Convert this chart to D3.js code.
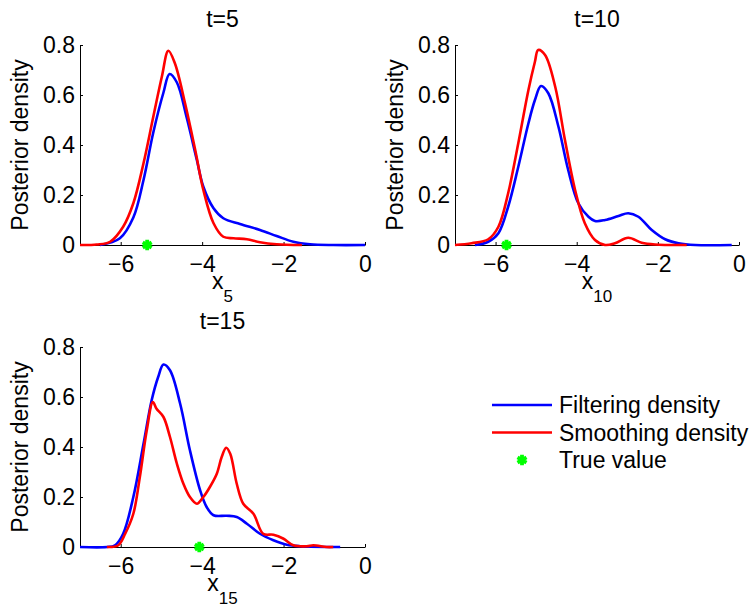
<!DOCTYPE html>
<html>
<head>
<meta charset="utf-8">
<script src="https://cdn.jsdelivr.net/npm/d3@7"></script>
<style>
  body { margin: 0; background: #fff; }
  svg { font-family: "Liberation Sans", Arial, Helvetica, sans-serif; }
  .axis path, .axis line { stroke: #000; }
  .axis text { font-size: 23px; fill: #000; }
  .lbl { font-size: 23px; fill: #000; }
  .curve { fill: none; stroke-width: 2.6; stroke-linejoin: round; }
</style>
</head>
<body>
<svg id="chart" width="756" height="607"></svg>
<script>
// time steps shown, one panel each
let times = [5, 10, 15];
let trueValues = [-5.35, -5.73, -4.07];
let xTicks = [-6, -4, -2, 0];
let yTicks = [0, 0.2, 0.4, 0.6, 0.8];
let seriesNames = ['Filtering density', 'Smoothing density', 'True value'];

// [x, density]
let filtering5 = [[-6.51,0],[-6.02,0.027],[-5.69,0.11],[-5.44,0.26],[-5.2,0.45],[-4.95,0.61],
  [-4.8,0.684],[-4.62,0.65],[-4.38,0.51],[-4.13,0.34],[-3.97,0.233],[-3.72,0.147],[-3.48,0.107],
  [-3.07,0.084],[-2.58,0.06],[-2.17,0.036],[-1.76,0.013],[-1.35,0.003],[-0.78,0],[0,0]];
let smoothing5 = [[-7,0],[-6.59,0.002],[-6.26,0.013],[-5.94,0.073],[-5.69,0.167],[-5.44,0.327],
  [-5.2,0.513],[-4.99,0.673],[-4.83,0.777],[-4.67,0.727],[-4.42,0.567],[-4.17,0.38],[-3.97,0.22],
  [-3.72,0.087],[-3.48,0.033],[-3.23,0.027],[-2.9,0.023],[-2.58,0.011],[-2.17,0.003],[-1.55,0]];
let filtering10 = [[-6.51,0],[-6.18,0.013],[-5.93,0.047],[-5.69,0.153],[-5.44,0.313],[-5.19,0.487],
  [-5.03,0.58],[-4.88,0.636],[-4.7,0.607],[-4.45,0.473],[-4.21,0.3],[-3.96,0.167],[-3.71,0.113],
  [-3.55,0.096],[-3.3,0.1],[-2.97,0.116],[-2.73,0.127],[-2.48,0.113],[-2.15,0.06],[-1.82,0.023],
  [-1.49,0.007],[-1.08,0],[-0.18,0]];
let smoothing10 = [[-7,0],[-6.59,0.007],[-6.18,0.023],[-5.93,0.073],[-5.69,0.207],[-5.44,0.407],
  [-5.19,0.62],[-5.03,0.733],[-4.95,0.78],[-4.78,0.76],[-4.53,0.633],[-4.29,0.42],[-4.04,0.22],
  [-3.8,0.087],[-3.55,0.02],[-3.3,0],[-3.06,0.007],[-2.73,0.029],[-2.4,0.009],[-2.07,0.002],[-1.29,0]];
let filtering15 = [[-7,0],[-6.34,0],[-6.14,0.007],[-5.94,0.053],[-5.69,0.2],[-5.44,0.413],
  [-5.24,0.587],[-5.08,0.68],[-4.95,0.73],[-4.79,0.707],[-4.54,0.573],[-4.3,0.387],[-4.05,0.227],
  [-3.89,0.16],[-3.72,0.127],[-3.4,0.125],[-3.15,0.12],[-2.9,0.093],[-2.58,0.053],[-2.25,0.027],
  [-1.92,0.009],[-1.59,0.003],[-0.61,0]];
let smoothing15 = [[-6.34,0],[-6.06,0.007],[-5.89,0.053],[-5.69,0.133],[-5.53,0.28],[-5.36,0.467],
  [-5.21,0.58],[-5.12,0.553],[-4.95,0.52],[-4.79,0.44],[-4.62,0.333],[-4.46,0.253],[-4.3,0.2],
  [-4.13,0.173],[-3.97,0.2],[-3.81,0.24],[-3.64,0.293],[-3.52,0.36],[-3.41,0.397],[-3.31,0.373],
  [-3.15,0.253],[-2.99,0.173],[-2.74,0.133],[-2.5,0.053],[-2.25,0.049],[-2.0,0.033],[-1.76,0.007],
  [-1.43,0.003],[-1.27,0.007],[-0.94,0],[-0.78,0]];

let filteringAll = [filtering5, filtering10, filtering15];
let smoothingAll = [smoothing5, smoothing10, smoothing15];

let colors = {filter: '#0000ff', smooth: '#ff0000', truth: '#00ff00'};

let svg = d3.select('#chart');

// panel boxes in pixels
let boxes = [
  {left: 80, right: 365, top: 45, bottom: 245},
  {left: 455, right: 739, top: 45, bottom: 245},
  {left: 80, right: 365, top: 347, bottom: 547}
];

let star = d3.symbol().type(d3.symbolAsterisk).size(75);

times.forEach((t, i) => {
  let b = boxes[i];
  let x = d3.scaleLinear().domain([-7, 0]).range([b.left, b.right]);
  let y = d3.scaleLinear().domain([0, 0.8]).range([b.bottom, b.top]);
  let g = svg.append('g');

  g.append('g')
    .attr('class', 'axis')
    .attr('transform', `translate(0,${b.bottom})`)
    .call(d3.axisBottom(x).tickValues(xTicks).tickSizeInner(-3).tickSizeOuter(0).tickPadding(11)
      .tickFormat(d3.format('d')));

  g.append('g')
    .attr('class', 'axis')
    .attr('transform', `translate(${b.left},0)`)
    .call(d3.axisLeft(y).tickValues(yTicks).tickSizeInner(-3).tickSizeOuter(0).tickPadding(5)
      .tickFormat(d3.format('')));
  g.selectAll('.axis').attr('font-size', null).attr('font-family', null);

  let line = d3.line()
    .x(d => x(d[0]))
    .y(d => y(d[1]))
    .curve(d3.curveCatmullRom.alpha(0.5));

  g.append('path').attr('class', 'curve')
    .attr('d', line(filteringAll[i]))
    .attr('stroke', colors.filter);
  g.append('path').attr('class', 'curve')
    .attr('d', line(smoothingAll[i]))
    .attr('stroke', colors.smooth);

  g.append('path')
    .attr('d', star)
    .attr('transform', `translate(${x(trueValues[i])},${y(0)})`)
    .attr('stroke', colors.truth)
    .attr('stroke-width', 3.8)
    .attr('fill', colors.truth);

  let cx = (b.left + b.right) / 2;
  g.append('text').attr('class', 'lbl')
    .attr('x', cx).attr('y', b.top - 18)
    .attr('text-anchor', 'middle')
    .text(`t=${t}`);

  g.append('text').attr('class', 'lbl')
    .attr('transform', `translate(${b.left - 52},${(b.top + b.bottom) / 2}) rotate(-90)`)
    .attr('text-anchor', 'middle')
    .text('Posterior density');

  let xl = g.append('text').attr('class', 'lbl')
    .attr('x', cx).attr('y', b.bottom + 44)
    .attr('text-anchor', 'middle');
  xl.append('tspan').text('x');
  xl.append('tspan').attr('dy', 13).attr('font-size', 17).text(t);
});

// legend
let leg = svg.append('g').attr('transform', 'translate(492,405)');
let rowH = 27.5;
seriesNames.forEach((name, i) => {
  let row = leg.append('g').attr('transform', `translate(0,${i * rowH})`);
  if (i < 2) {
    row.append('line')
      .attr('x1', 0).attr('x2', 60)
      .attr('stroke', i == 0 ? colors.filter : colors.smooth)
      .attr('stroke-width', 2.6);
  } else {
    row.append('path')
      .attr('d', star)
      .attr('transform', 'translate(30,0)')
      .attr('stroke', colors.truth)
      .attr('stroke-width', 3.8)
      .attr('fill', colors.truth);
  }
  row.append('text').attr('class', 'lbl')
    .attr('x', 67).attr('dy', '0.36em')
    .text(name);
});
</script>
</body>
</html>
